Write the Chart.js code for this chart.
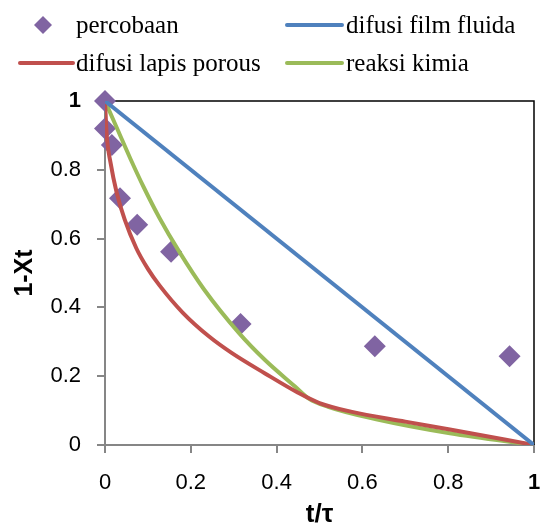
<!DOCTYPE html>
<html>
<head>
    <title>1-Xt vs t/tau</title>
    <script src="https://cdn.jsdelivr.net/npm/chart.js"></script>
    <style>
        body { margin: 0; background: white; }
        #wrap { width: 545px; height: 523px; }
    </style>
</head>
<body>
    <div id="wrap"><canvas id="chart" width="545" height="523"></canvas></div>
    <script>
        // data
        const seriesNames = ['percobaan', 'difusi film fluida', 'difusi lapis porous', 'reaksi kimia'];
        const seriesColors = ['#8064A2', '#4F81BD', '#C0504D', '#9BBB59'];

        const expT = [0, 0, 0.016, 0.035, 0.075, 0.154, 0.316, 0.629, 0.943];
        const expY = [1, 0.92, 0.872, 0.717, 0.64, 0.562, 0.352, 0.287, 0.258];

        const filmT = [0, 1];
        const filmY = [1, 0];

        const porousT = [0, 0.004, 0.013, 0.027, 0.046, 0.073, 0.1, 0.127, 0.181, 0.242, 0.296, 0.373, 0.45, 0.50, 0.573, 0.70, 0.804, 1];
        const porousY = [1, 0.9, 0.82, 0.735, 0.655, 0.572, 0.512, 0.464, 0.385, 0.316, 0.267, 0.208, 0.152, 0.122, 0.097, 0.068, 0.045, 0];

        const kimiaT = [0, 0.03, 0.06, 0.09, 0.127, 0.173, 0.231, 0.312, 0.373, 0.443, 0.475, 0.52, 0.635, 0.804, 1];
        const kimiaY = [1, 0.915, 0.83, 0.75, 0.66, 0.562, 0.452, 0.326, 0.247, 0.17, 0.135, 0.111, 0.074, 0.034, 0];

        const xTickLabels = ['0', '0.2', '0.4', '0.6', '0.8', '1'];
        const yTickLabels = ['0', '0.2', '0.4', '0.6', '0.8', '1'];

        function pts(xs, ys) {
            return xs.map((x, i) => ({x: x, y: ys[i]}));
        }

        const axisGray = '#868686';
        const tickFont = ctx => ({
            family: 'Liberation Sans', size: 22,
            weight: (ctx.tick && ctx.tick.value === 1) ? 'bold' : 'normal'
        });

        // legend in two columns + black frame on top and right
        const extras = {
            id: 'extras',
            beforeDatasetsDraw(chart) {
                const c = chart.ctx, a = chart.chartArea;
                c.save();
                c.strokeStyle = '#000';
                c.lineWidth = 1.5;
                c.beginPath();
                c.moveTo(a.left, a.top);
                c.lineTo(a.right, a.top);
                c.lineTo(a.right, a.bottom);
                c.stroke();
                c.restore();
            },
            afterDraw(chart) {
                const c = chart.ctx;
                const items = [
                    {i: 0, mx: 43, tx: 76, y: 25},
                    {i: 1, lx: [287, 342], tx: 346, y: 25},
                    {i: 2, lx: [20, 73], tx: 76, y: 63},
                    {i: 3, lx: [287, 342], tx: 346, y: 63}
                ];
                c.save();
                c.font = '25px "Liberation Serif"';
                c.textBaseline = 'alphabetic';
                items.forEach(it => {
                    const ds = chart.data.datasets[it.i];
                    if (it.mx !== undefined) {
                        c.fillStyle = ds.backgroundColor;
                        c.beginPath();
                        c.moveTo(it.mx, it.y - 9);
                        c.lineTo(it.mx + 9, it.y);
                        c.lineTo(it.mx, it.y + 9);
                        c.lineTo(it.mx - 9, it.y);
                        c.closePath();
                        c.fill();
                    } else {
                        c.strokeStyle = ds.borderColor;
                        c.lineWidth = 4;
                        c.lineCap = 'round';
                        c.beginPath();
                        c.moveTo(it.lx[0], it.y);
                        c.lineTo(it.lx[1], it.y);
                        c.stroke();
                    }
                    c.fillStyle = '#000';
                    c.fillText(ds.label, it.tx, it.y + 8);
                });
                c.restore();
            }
        };

        const lineDs = (i, data) => ({
            label: seriesNames[i],
            data: data,
            showLine: true,
            borderColor: seriesColors[i],
            backgroundColor: seriesColors[i],
            borderWidth: 4,
            pointRadius: 0,
            cubicInterpolationMode: 'monotone',
            order: 1
        });

        new Chart(document.getElementById('chart'), {
            type: 'scatter',
            data: {
                datasets: [
                    {
                        label: seriesNames[0],
                        data: pts(expT, expY),
                        pointStyle: 'rectRot',
                        pointRadius: 11,
                        pointHoverRadius: 11,
                        borderWidth: 0,
                        backgroundColor: seriesColors[0],
                        borderColor: seriesColors[0],
                        clip: false,
                        order: 5
                    },
                    lineDs(1, pts(filmT, filmY)),
                    lineDs(2, pts(porousT, porousY)),
                    lineDs(3, pts(kimiaT, kimiaY))
                ]
            },
            options: {
                responsive: false,
                animation: false,
                layout: { padding: { top: 101, right: 4, left: 0, bottom: 0 } },
                plugins: { legend: { display: false }, tooltip: { enabled: false } },
                scales: {
                    x: {
                        type: 'linear', min: 0, max: 1,
                        afterFit(s) { s.height = 78; s.paddingRight = 0; s.paddingLeft = 0; },
                        border: { color: axisGray, width: 2 },
                        grid: { drawOnChartArea: false, drawTicks: true, tickLength: 8, color: axisGray, lineWidth: 2 },
                        ticks: {
                            stepSize: 0.2, color: '#000', padding: 17, font: tickFont, maxRotation: 0,
                            callback: (v, idx) => xTickLabels[idx]
                        },
                        title: { display: true, text: 't/\u03c4', color: '#000', padding: 0,
                                 font: { family: 'Liberation Sans', size: 26, weight: 'bold', lineHeight: 0.6 } }
                    },
                    y: {
                        type: 'linear', min: 0, max: 1,
                        afterFit(s) { s.width = 105; s.paddingTop = 0; s.paddingBottom = 0; },
                        border: { color: axisGray, width: 2 },
                        grid: { drawOnChartArea: false, drawTicks: true, tickLength: 8, color: axisGray, lineWidth: 2 },
                        ticks: {
                            stepSize: 0.2, color: '#000', padding: 16, font: tickFont,
                            callback: (v, idx) => yTickLabels[idx]
                        },
                        title: { display: true, text: '1-Xt', color: '#000', padding: { top: 13, bottom: 0 },
                                 font: { family: 'Liberation Sans', size: 25, weight: 'bold', lineHeight: 1 } }
                    }
                }
            },
            plugins: [extras]
        });
    </script>
</body>
</html>
